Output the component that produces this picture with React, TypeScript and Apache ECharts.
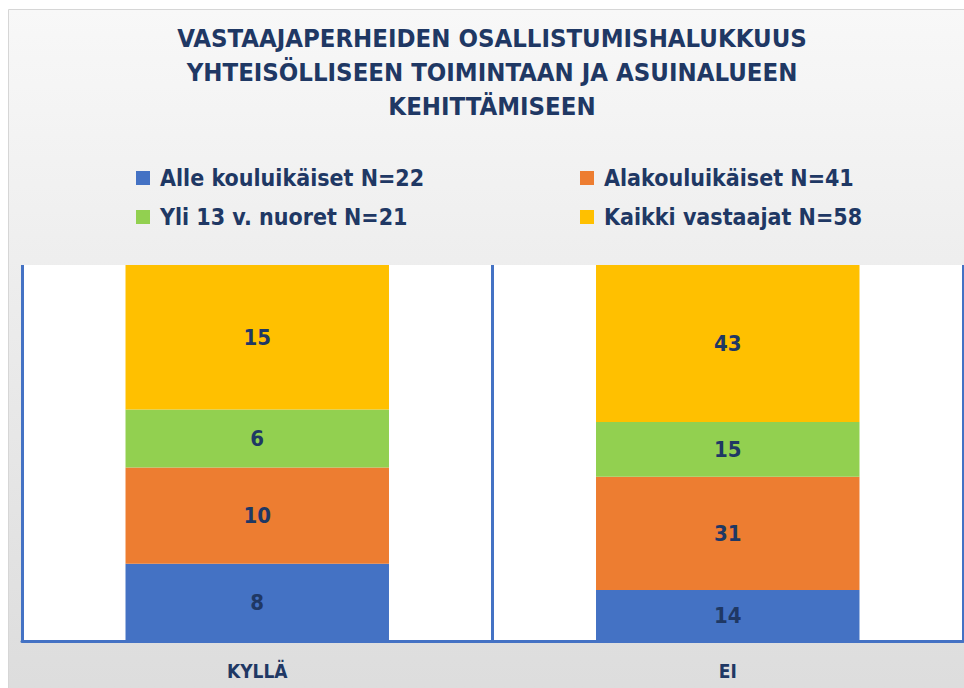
import React, { useEffect, useRef } from "react";
import * as echarts from "echarts";

const categories = ["KYLLÄ", "EI"];
const seriesNames = [
  "Alle kouluikäiset N=22",
  "Alakouluikäiset N=41",
  "Yli 13 v. nuoret N=21",
  "Kaikki vastaajat N=58",
];
const alleKouluikaiset = [8, 14];
const alakouluikaiset = [10, 31];
const yli13Nuoret = [6, 15];
const kaikkiVastaajat = [15, 43];
const titleLines = [
  "VASTAAJAPERHEIDEN OSALLISTUMISHALUKKUUS",
  "YHTEISÖLLISEEN TOIMINTAAN JA ASUINALUEEN",
  "KEHITTÄMISEEN",
];

const colors = ["#4472C4", "#ED7D31", "#92D050", "#FFC000"];
const navy = "#1F3864";
const font = "DejaVu Sans Condensed";

export default function App() {
  const ref = useRef<HTMLDivElement>(null);
  useEffect(() => {
    if (!ref.current) return;
    const chart = echarts.init(ref.current, undefined, { renderer: "svg" });
    const raw = [alleKouluikaiset, alakouluikaiset, yli13Nuoret, kaikkiVastaajat];
    const totals = categories.map((_, i) => raw.reduce((s, arr) => s + arr[i], 0));
    const series = raw.map((arr, k) => ({
      name: seriesNames[k],
      type: "bar",
      stack: "total",
      barWidth: "56%",
      itemStyle: { color: colors[k] },
      data: arr.map((v, i) => (v / totals[i]) * 100),
      label: {
        show: true,
        position: "inside",
        color: navy,
        fontFamily: font,
        fontWeight: "bold",
        fontSize: 22,
        formatter: (p: any) => String(arr[p.dataIndex]),
      },
    }));
    const legendText = {
      color: navy,
      fontFamily: font,
      fontWeight: "bold",
      fontSize: 23,
      lineHeight: 23,
      padding: [0, 0, 0, 5],
    };
    chart.setOption({
      animation: false,
      backgroundColor: "#ffffff",
      graphic: [
        {
          type: "rect",
          z: -100,
          silent: true,
          shape: { x: 8.5, y: 9.5, width: 980, height: 700 },
          style: {
            fill: new echarts.graphic.LinearGradient(0, 0, 0, 1, [
              { offset: 0, color: "#f8f8f8" },
              { offset: 1, color: "#dcdcdc" },
            ]),
            stroke: "#d6d6d6",
            lineWidth: 1,
          },
        },
        {
          type: "text",
          x: 492,
          y: 20.5,
          silent: true,
          style: {
            text: titleLines.join("\n"),
            textAlign: "center",
            fill: navy,
            fontFamily: font,
            fontWeight: "bold",
            fontSize: 25.5,
            lineHeight: 34,
          },
        },
      ],
      legend: [
        {
          data: [seriesNames[0], seriesNames[2]],
          orient: "vertical",
          left: 136,
          top: 166.5,
          padding: 0,
          icon: "rect",
          itemWidth: 14,
          itemHeight: 14,
          itemGap: 16,
          textStyle: legendText,
        },
        {
          data: [seriesNames[1], seriesNames[3]],
          orient: "vertical",
          left: 580,
          top: 166.5,
          padding: 0,
          icon: "rect",
          itemWidth: 14,
          itemHeight: 14,
          itemGap: 16,
          textStyle: legendText,
        },
      ],
      grid: {
        left: 22,
        right: 1,
        top: 265,
        bottom: 47,
        show: true,
        backgroundColor: "#ffffff",
        borderWidth: 0,
      },
      xAxis: {
        type: "category",
        data: categories,
        axisLine: { lineStyle: { color: "#4472C4", width: 3 } },
        axisTick: { show: false },
        splitLine: { show: true, lineStyle: { color: "#4472C4", width: 3 } },
        axisLabel: {
          color: navy,
          fontFamily: font,
          fontWeight: "bold",
          fontSize: 19,
          margin: 20,
        },
      },
      yAxis: {
        type: "value",
        min: 0,
        max: 100,
        show: false,
        splitLine: { show: false },
      },
      series,
    });
    return () => chart.dispose();
  }, []);
  return (
    <div
      ref={ref}
      style={{ position: "fixed", left: 0, top: 0, width: 964, height: 688 }}
    />
  );
}
